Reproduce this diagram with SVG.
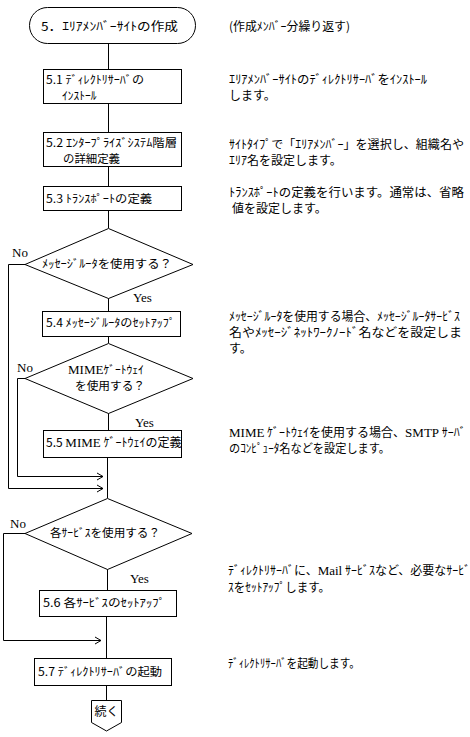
<svg xmlns="http://www.w3.org/2000/svg" width="470" height="737" viewBox="0 0 470 737">
<style>
.box{fill:#fff;stroke:#000;stroke-width:1}
.ln{fill:none;stroke:#000;stroke-width:1}
.t{font-family:"Noto Sans CJK JP","Liberation Sans",sans-serif;font-size:12px;fill:#000}
.n{font-size:11.5px}
.s{font-family:"Liberation Serif","Noto Sans CJK JP",serif;font-size:13px;fill:#000}
.c{text-anchor:middle}
</style>
<defs>
<marker id="arr" markerWidth="8" markerHeight="9" refX="7" refY="4.5" orient="auto" markerUnits="userSpaceOnUse">
<path d="M1,1 L7,4.5 L1,8" fill="none" stroke="#000" stroke-width="1"/>
</marker>
</defs>
<rect width="470" height="737" fill="#fff"/>
<g id="connectors">
<path class="ln" d="M108.5,43 V69 M108.5,103 V132 M108.5,166 V186 M108.5,211 V228 M108.5,298 V311 M108.5,336 V343 M108.5,413 V430 M107.5,457 V498 M107.5,569 V590 M106.5,616 V658 M106.5,685 V700"/>
<path class="ln" d="M25,264.5 H8.5 V488.5 H103" marker-end="url(#arr)"/>
<path class="ln" d="M25,378.5 H17.5 V476.5 H103" marker-end="url(#arr)"/>
<path class="ln" d="M25,533.5 H3.5 V640.5 H101" marker-end="url(#arr)"/>
</g>
<g id="start">
<rect class="box" x="29.5" y="7.5" width="166" height="36" rx="18" ry="18"/>
<text class="t" x="41" y="31" font-size="13.5" textLength="137" lengthAdjust="spacingAndGlyphs">5．ｴﾘｱﾒﾝﾊﾞｰｻｲﾄの作成</text>
</g>
<g id="n51">
<rect class="box" x="43.5" y="69.5" width="138" height="34"/>
<text class="t n" x="46" y="84" textLength="98" lengthAdjust="spacingAndGlyphs">5.1 ﾃﾞｨﾚｸﾄﾘｻｰﾊﾞの</text>
<text class="t n" x="62" y="100">ｲﾝｽﾄｰﾙ</text>
</g>
<g id="n52">
<rect class="box" x="43.5" y="132.5" width="138" height="34"/>
<text class="t n" x="46" y="147" textLength="131" lengthAdjust="spacingAndGlyphs">5.2 ｴﾝﾀｰﾌﾟﾗｲｽﾞｼｽﾃﾑ階層</text>
<text class="t n" x="63" y="163" textLength="57" lengthAdjust="spacingAndGlyphs">の詳細定義</text>
</g>
<g id="n53">
<rect class="box" x="43.5" y="186.5" width="138" height="24"/>
<text class="t n" x="46" y="203" textLength="106" lengthAdjust="spacingAndGlyphs">5.3 ﾄﾗﾝｽﾎﾟｰﾄの定義</text>
</g>
<g id="d1">
<polygon class="box" points="108.5,228.5 193,264.5 108.5,298.5 25,264.5"/>
<text class="t n" x="42" y="268" textLength="130" lengthAdjust="spacingAndGlyphs">ﾒｯｾｰｼﾞﾙｰﾀを使用する？</text>
<text class="s" x="12" y="257">No</text>
<text class="s" x="133" y="302">Yes</text>
</g>
<g id="n54">
<rect class="box" x="42.5" y="311.5" width="138" height="25"/>
<text class="t n" x="46" y="327" textLength="129" lengthAdjust="spacingAndGlyphs">5.4 ﾒｯｾｰｼﾞﾙｰﾀのｾｯﾄｱｯﾌﾟ</text>
</g>
<g id="d2">
<polygon class="box" points="108.5,343.5 193,378.5 108.5,413.5 25,378.5"/>
<text class="t n" x="68" y="374"><tspan class="s" font-size="12.5">MIME</tspan>ｹﾞｰﾄｳｪｲ</text>
<text class="t n" x="75" y="390" textLength="70" lengthAdjust="spacingAndGlyphs">を使用する？</text>
<text class="s" x="17" y="372">No</text>
<text class="s" x="135" y="427">Yes</text>
</g>
<g id="n55">
<rect class="box" x="43.5" y="430.5" width="138" height="27"/>
<text class="t" x="46" y="447" font-size="10.5">5.5 <tspan class="s" font-size="11.5">MIME</tspan> ｹﾞｰﾄｳｪｲの定義</text>
</g>
<g id="d3">
<polygon class="box" points="107.5,498.5 192,533.5 107.5,569.5 25,533.5"/>
<text class="t n" x="50" y="537" textLength="110" lengthAdjust="spacingAndGlyphs">各ｻｰﾋﾞｽを使用する？</text>
<text class="s" x="10" y="528">No</text>
<text class="s" x="130" y="583">Yes</text>
</g>
<g id="n56">
<rect class="box" x="39.5" y="590.5" width="137" height="26"/>
<text class="t n" x="43" y="607" textLength="122" lengthAdjust="spacingAndGlyphs">5.6 各ｻｰﾋﾞｽのｾｯﾄｱｯﾌﾟ</text>
</g>
<g id="n57">
<rect class="box" x="34.5" y="658.5" width="137" height="27"/>
<text class="t n" x="38" y="676" textLength="124" lengthAdjust="spacingAndGlyphs">5.7 ﾃﾞｨﾚｸﾄﾘｻｰﾊﾞの起動</text>
</g>
<g id="cont">
<polygon class="box" points="91.5,700.5 121.5,700.5 121.5,722.5 106.5,731 91.5,722.5"/>
<text class="t c" x="106.5" y="716">続く</text>
</g>
<g id="notes">
<text class="t" x="229" y="31" textLength="121" lengthAdjust="spacingAndGlyphs">(作成ﾒﾝﾊﾞｰ分繰り返す)</text>
<text class="t" x="229" y="84" textLength="198" lengthAdjust="spacingAndGlyphs">ｴﾘｱﾒﾝﾊﾞｰｻｲﾄのﾃﾞｨﾚｸﾄﾘｻｰﾊﾞをｲﾝｽﾄｰﾙ</text>
<text class="t" x="229" y="100">します。</text>
<text class="t" x="229" y="149" textLength="235" lengthAdjust="spacingAndGlyphs">ｻｲﾄﾀｲﾌﾟで「ｴﾘｱﾒﾝﾊﾞｰ」を選択し、組織名や</text>
<text class="t" x="229" y="165">ｴﾘｱ名を設定します。</text>
<text class="t" x="229" y="197" textLength="235" lengthAdjust="spacingAndGlyphs">ﾄﾗﾝｽﾎﾟｰﾄの定義を行います。通常は、省略</text>
<text class="t" x="232" y="213">値を設定します。</text>
<text class="t" x="229" y="321" textLength="231" lengthAdjust="spacingAndGlyphs">ﾒｯｾｰｼﾞﾙｰﾀを使用する場合、ﾒｯｾｰｼﾞﾙｰﾀｻｰﾋﾞｽ</text>
<text class="t" x="229" y="337" textLength="233" lengthAdjust="spacingAndGlyphs">名やﾒｯｾｰｼﾞﾈｯﾄﾜｰｸﾉｰﾄﾞ名などを設定しま</text>
<text class="t" x="229" y="353">す。</text>
<text class="t" x="229" y="437"><tspan class="s" font-size="12">MIME</tspan> ｹﾞｰﾄｳｪｲを使用する場合、<tspan class="s" font-size="12">SMTP</tspan> ｻｰﾊﾞ</text>
<text class="t" x="229" y="453" textLength="161" lengthAdjust="spacingAndGlyphs">のｺﾝﾋﾟｭｰﾀ名などを設定します。</text>
<text class="t" x="228" y="575" font-size="11.4"><tspan>ﾃﾞｨﾚｸﾄﾘｻｰﾊﾞに、</tspan><tspan class="s" font-size="12">Mail</tspan><tspan> ｻｰﾋﾞｽなど、必要なｻｰﾋﾞ</tspan></text>
<text class="t" x="228" y="592" textLength="102" lengthAdjust="spacingAndGlyphs">ｽをｾｯﾄｱｯﾌﾟします。</text>
<text class="t" x="228" y="668" textLength="132" lengthAdjust="spacingAndGlyphs">ﾃﾞｨﾚｸﾄﾘｻｰﾊﾞを起動します。</text>
</g>
</svg>
